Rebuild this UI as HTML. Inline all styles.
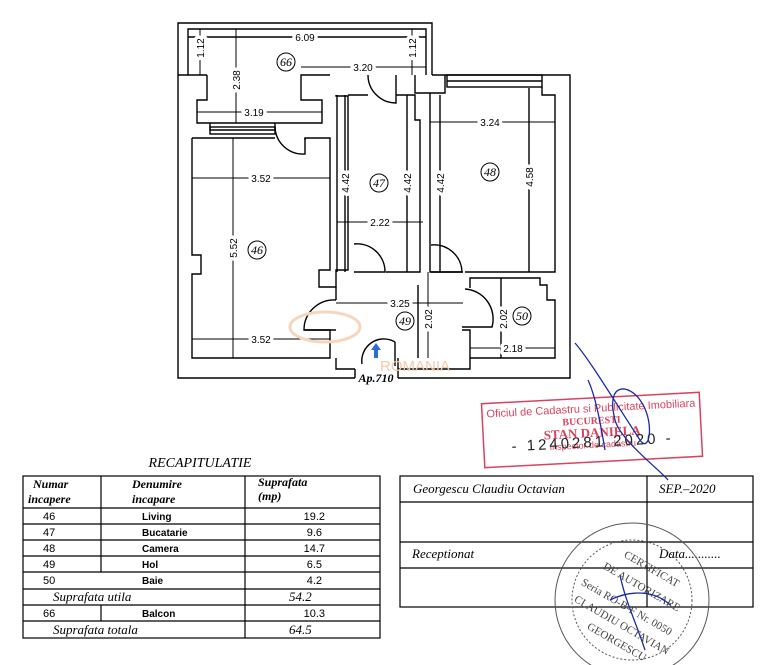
<!DOCTYPE html>
<html><head><meta charset="utf-8"><style>
html,body{margin:0;padding:0;background:#fff;width:775px;height:665px;overflow:hidden}
svg{display:block}
.d{font-family:"Liberation Sans",sans-serif;font-size:10px}
.c{font-family:"Liberation Serif",serif;font-style:italic;font-size:12px}
</style></head><body>
<svg width="775" height="665" viewBox="0 0 775 665" xmlns="http://www.w3.org/2000/svg">
<g fill="none" stroke="#000" stroke-width="1.4">
<polyline points="178,75 178,23 432,23 432,75"/>
<polyline points="188,75 188,29 426,29 426,75"/>
<line x1="188" y1="37" x2="426" y2="37"/>
<polyline points="178,75 178,378 355,378"/>
<polyline points="398,378 570,378 570,75 432,75"/>
<line x1="178" y1="75" x2="207" y2="75"/>
<polyline points="207,75 207,100 197,100 197,123 322,123 322,100 301,100 301,75 330,75"/>
<polyline points="210,123 210,130 275,130 275,123"/>
<rect x="210" y="127" width="65" height="7"/>
<polyline points="192,138 192,255 201,255 201,274 192,274 192,358 330,358 330,340"/>
<polyline points="192,138 275,138"/>
<polyline points="305,140 305,138 330,138 330,270 319,270 319,287 336,287 336,270 348,270 348,96 336,96 336,95"/>
<polyline points="337,95 337,272"/>
<polyline points="345,95 345,272"/>
<polyline points="348,95 368,95"/>
<polyline points="396,95 415,95 415,120 420,120 420,272 386,272"/>
<line x1="407" y1="95" x2="407" y2="272"/>
<polyline points="396,75 396,95"/>
<polyline points="415,75 415,93 445,93 445,75"/>
<polyline points="430,93 430,272 463,272"/>
<rect x="447" y="75" width="95" height="12"/>
<line x1="447" y1="81" x2="542" y2="81"/>
<polyline points="542,87 542,95 555,95 555,272 465,272"/>
<line x1="440" y1="95" x2="440" y2="272"/>
<line x1="529" y1="88" x2="529" y2="272"/>
<polyline points="470,288 470,278 540,278 540,285 547,285 547,300 555,300 555,358 470,358 470,330 462,330"/>
<line x1="501" y1="278" x2="501" y2="358"/>
<line x1="418" y1="285" x2="418" y2="358"/>
<polyline points="304,330 330,330 330,340"/>
<polyline points="336,287 336,300"/>
<polyline points="336,358 336,369 355,369"/>
<polyline points="398,369 470,369 470,358"/>
<line x1="398" y1="358" x2="398" y2="378"/>
<line x1="355" y1="369" x2="355" y2="378"/>
<path d="M275,127 A28,28 0 0 0 305,154 L305,138"/>
<path d="M368,75 A28,28 0 0 0 396,103 L396,95"/>
<path d="M354,244 A28,28 0 0 1 385,272 L354,272"/>
<path d="M431,245 A28,28 0 0 1 462,272 L431,272"/>
<path d="M336,300 A30,30 0 0 0 304,330 L336,330"/>
<path d="M465,289 A30,30 0 0 1 492,327 L462,327"/>
<path d="M395,342 A22,22 0 0 0 362,364"/>
<line x1="395" y1="342" x2="395" y2="366"/>
</g>
<g stroke="#000" stroke-width="1">
<line x1="200" y1="29" x2="200" y2="75"/>
<line x1="412" y1="29" x2="412" y2="75"/>
<line x1="236" y1="29" x2="236" y2="123"/>
<line x1="301" y1="67" x2="426" y2="67"/>
<line x1="197" y1="112" x2="322" y2="112"/>
<line x1="192" y1="178" x2="330" y2="178"/>
<line x1="233" y1="138" x2="233" y2="358"/>
<line x1="192" y1="339" x2="330" y2="339"/>
<line x1="337" y1="222" x2="423" y2="222"/>
<line x1="430" y1="122" x2="555" y2="122"/>
<line x1="336" y1="303" x2="463" y2="303"/>
<line x1="470" y1="348" x2="555" y2="348"/>
<line x1="428" y1="272" x2="428" y2="358"/>
</g>
<g class="d" text-anchor="middle" stroke="#fff" stroke-width="7" style="paint-order:stroke" stroke-linejoin="round">
<text x="305" y="41">6.09</text>
<text x="363" y="71">3.20</text>
<text x="254" y="116">3.19</text>
<text x="261" y="182">3.52</text>
<text x="261" y="343">3.52</text>
<text x="380" y="226">2.22</text>
<text x="490" y="126">3.24</text>
<text x="400" y="307">3.25</text>
<text x="513" y="352">2.18</text>
<text transform="translate(204,48) rotate(-90)">1.12</text>
<text transform="translate(416,48) rotate(-90)">1.12</text>
<text transform="translate(240,80) rotate(-90)">2.38</text>
<text transform="translate(237,248) rotate(-90)">5.52</text>
<text transform="translate(349,183) rotate(-90)">4.42</text>
<text transform="translate(411,183) rotate(-90)">4.42</text>
<text transform="translate(444,183) rotate(-90)">4.42</text>
<text transform="translate(533,177) rotate(-90)">4.58</text>
<text transform="translate(432,319) rotate(-90)">2.02</text>
<text transform="translate(507,319) rotate(-90)">2.02</text>
</g>
<g fill="none" stroke="#000" stroke-width="1">
<circle cx="286" cy="62" r="9"/><circle cx="257" cy="250" r="9"/><circle cx="379" cy="183" r="9"/>
<circle cx="490" cy="172" r="9"/><circle cx="405" cy="321" r="9"/><circle cx="522" cy="316" r="9"/>
</g>
<g class="c" text-anchor="middle">
<text x="286" y="66">66</text><text x="257" y="254">46</text><text x="379" y="187">47</text>
<text x="490" y="176">48</text><text x="405" y="325">49</text><text x="522" y="320">50</text>
<text x="376" y="382" font-weight="bold">Ap.710</text>
</g>
<path d="M376,343 l-5,7 h3 v8 h4 v-8 h3 z" fill="#2a6fd0"/>
<text x="380" y="371" font-family="Liberation Sans,sans-serif" font-size="15" fill="#f6c9a8">ROMANIA</text>
<ellipse cx="325" cy="327" rx="35" ry="15" fill="none" stroke="#f7d6bd" stroke-width="3"/>

<text x="200" y="467" text-anchor="middle" font-family="Liberation Serif,serif" font-style="italic" font-size="14">RECAPITULATIE</text>
<g stroke="#000" stroke-width="1.2" fill="none">
<rect x="23" y="476" width="357" height="162"/>
<line x1="23" y1="508" x2="380" y2="508"/><line x1="23" y1="524" x2="380" y2="524"/>
<line x1="23" y1="540" x2="380" y2="540"/><line x1="23" y1="556" x2="380" y2="556"/>
<line x1="23" y1="572" x2="380" y2="572"/><line x1="23" y1="589" x2="380" y2="589"/>
<line x1="23" y1="605" x2="380" y2="605"/><line x1="23" y1="621" x2="380" y2="621"/>
<line x1="101" y1="476" x2="101" y2="572"/><line x1="101" y1="605" x2="101" y2="621"/>
<line x1="245" y1="476" x2="245" y2="638"/>
</g>
<g font-family="Liberation Serif,serif" font-style="italic" font-weight="bold" font-size="12">
<text x="33" y="488">Numar</text><text x="28" y="503">incapere</text>
<text x="132" y="488">Denumire</text><text x="132" y="503">incapare</text>
<text x="258" y="486">Suprafata</text><text x="258" y="500">(mp)</text>
</g>
<g font-family="Liberation Sans,sans-serif" font-size="11">
<text x="43" y="520">46</text><text x="43" y="536">47</text><text x="43" y="552">48</text><text x="43" y="568">49</text><text x="43" y="584">50</text><text x="43" y="617">66</text>
</g>
<g font-family="Liberation Sans,sans-serif" font-size="10" font-weight="bold">
<text x="142" y="520">Living</text><text x="142" y="536">Bucatarie</text><text x="142" y="552">Camera</text><text x="142" y="568">Hol</text><text x="142" y="584">Baie</text><text x="142" y="617">Balcon</text>
</g>
<g font-family="Liberation Sans,sans-serif" font-size="11" text-anchor="end">
<text x="325" y="520">19.2</text><text x="322" y="536">9.6</text><text x="325" y="552">14.7</text><text x="322" y="568">6.5</text><text x="322" y="584">4.2</text><text x="325" y="617">10.3</text>
</g>
<g font-family="Liberation Serif,serif" font-style="italic" font-size="13">
<text x="53" y="601">Suprafata  utila</text><text x="289" y="601">54.2</text>
<text x="53" y="634">Suprafata  totala</text><text x="289" y="634">64.5</text>
</g>

<g stroke="#000" stroke-width="1.2" fill="none">
<rect x="400" y="476" width="353" height="131"/>
<line x1="400" y1="502" x2="753" y2="502"/><line x1="400" y1="542" x2="753" y2="542"/>
<line x1="400" y1="568" x2="753" y2="568"/><line x1="647" y1="476" x2="647" y2="607"/>
</g>
<g font-family="Liberation Serif,serif" font-style="italic" font-size="13">
<text x="413" y="493">Georgescu  Claudiu  Octavian</text>
<text x="659" y="493">SEP.–2020</text>
<text x="412" y="558">Receptionat</text>
<text x="659" y="558">Data...........</text>
</g>

<g transform="rotate(-3 592 430)">
<rect x="483" y="398" width="218" height="64" fill="none" stroke="#d9435e" stroke-width="1.5"/>
<g fill="#d9435e" font-family="Liberation Sans,sans-serif" text-anchor="middle">
<text x="592" y="412" font-size="11">Oficiul de Cadastru si Publicitate Imobiliara</text>
<text x="592" y="424" font-size="10" font-weight="bold" font-family="Liberation Serif,serif">BUCURESTI</text>
<text x="592" y="437" font-size="13" font-weight="bold" font-family="Liberation Serif,serif">STAN DANIELA</text>
<text x="592" y="448" font-size="9">Inspector de cadastru</text>
</g>
<text x="592" y="447" text-anchor="middle" font-family="Liberation Sans,sans-serif" font-size="15" fill="#222" letter-spacing="3">- 1240281 2020 -</text>
</g>
<g fill="none" stroke="#555" stroke-width="1">
<circle cx="632" cy="600" r="77"/>
<circle cx="632" cy="600" r="60" stroke-dasharray="2 2"/>
</g>
<g font-family="Liberation Serif,serif" font-size="11" fill="#444" text-anchor="middle">
<text x="650" y="572" transform="rotate(30 650 572)">CERTIFICAT</text>
<text x="640" y="590" transform="rotate(30 640 590)">DE AUTORIZARE</text>
<text x="625" y="610" transform="rotate(30 625 610)">Seria RO-B-F Nr. 0050</text>
<text x="620" y="628" transform="rotate(30 620 628)">CLAUDIU OCTAVIAN</text>
<text x="615" y="645" transform="rotate(30 615 645)">GEORGESCU</text>
</g>
<g fill="none" stroke="#1c2aa0" stroke-width="1.3">
<path d="M575,343 C590,360 620,410 640,440 C650,455 655,420 640,400 C630,385 605,380 615,420 C620,440 660,470 668,480"/>
<path d="M588,380 C595,395 600,420 605,450"/>
<path d="M620,575 C625,600 635,620 645,650 M610,600 C630,590 655,590 670,605"/>
</g>
</svg>
</body></html>
